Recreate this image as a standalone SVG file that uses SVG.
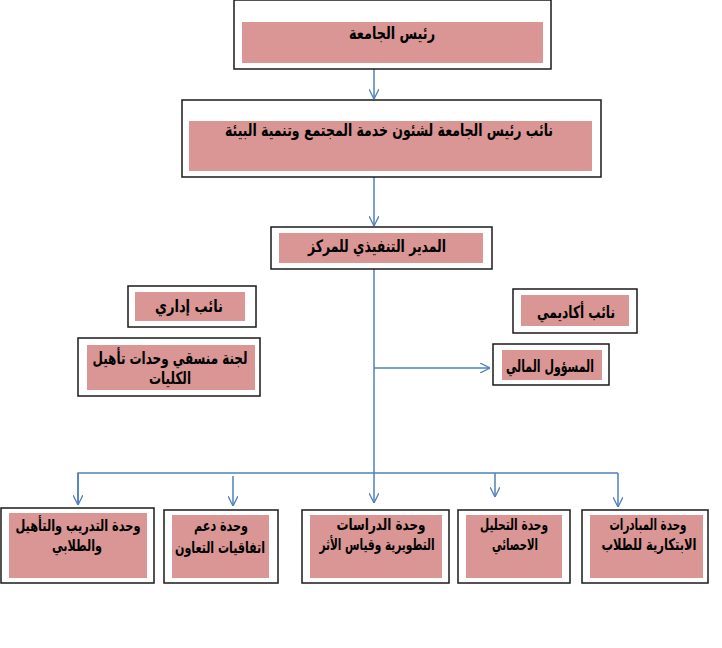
<svg xmlns="http://www.w3.org/2000/svg" width="722" height="648" viewBox="0 0 722 648">
<defs>
<style>
.outer{fill:#fff;stroke:#1a1a1a;stroke-width:1.5}
.inner{fill:#D99694;stroke:none}
.t{font-family:"DejaVu Sans Condensed","DejaVu Sans",sans-serif;font-weight:bold;font-size:17px;fill:#000;text-anchor:middle}
.s{font-size:16px}
.c{fill:none;stroke:#4F81BD;stroke-width:1.5}
</style>
<marker id="arr" viewBox="0 0 10 10" refX="10" refY="5" markerWidth="10" markerHeight="10" markerUnits="userSpaceOnUse" orient="auto">
<path d="M0,0 L10,5 L0,10" fill="none" stroke="#4F81BD" stroke-width="1.3"/>
</marker>
</defs>
<rect width="722" height="648" fill="#fff"/>

<g id="connectors">
<line class="c" x1="374" y1="69" x2="374" y2="99" marker-end="url(#arr)"/>
<line class="c" x1="374" y1="177" x2="374" y2="226" marker-end="url(#arr)"/>
<line class="c" x1="374" y1="269" x2="374" y2="503" marker-end="url(#arr)"/>
<line class="c" x1="374" y1="368" x2="490" y2="368" marker-end="url(#arr)"/>
<polyline class="c" points="78,505 78,473 618,473"/>
<line class="c" x1="78" y1="473" x2="78" y2="505" marker-end="url(#arr)"/>
<line class="c" x1="233" y1="476" x2="233" y2="506" marker-end="url(#arr)"/>
<line class="c" x1="495" y1="473" x2="495" y2="497" marker-end="url(#arr)"/>
<line class="c" x1="618" y1="473" x2="618" y2="507" marker-end="url(#arr)"/>
</g>

<g id="president">
<rect class="outer" x="234" y="0" width="317" height="69"/>
<rect class="inner" x="242" y="22" width="301" height="41"/>
<text class="t" x="392" y="39" textLength="86" lengthAdjust="spacingAndGlyphs">رئيس الجامعة</text>
</g>

<g id="vice-president">
<rect class="outer" x="182" y="100" width="419" height="77"/>
<rect class="inner" x="189" y="121" width="403" height="50"/>
<text class="t" x="389" y="136" textLength="328" lengthAdjust="spacingAndGlyphs">نائب رئيس الجامعة لشئون خدمة المجتمع وتنمية البيئة</text>
</g>

<g id="executive-director">
<rect class="outer" x="271" y="227" width="221" height="42"/>
<rect class="inner" x="279" y="233" width="204" height="30"/>
<text class="t" x="377" y="252" textLength="138" lengthAdjust="spacingAndGlyphs">المدير التنفيذي للمركز</text>
</g>

<g id="admin-deputy">
<rect class="outer" x="128" y="286" width="128" height="41"/>
<rect class="inner" x="135" y="292" width="110" height="29"/>
<text class="t" x="189" y="312" textLength="68" lengthAdjust="spacingAndGlyphs">نائب إداري</text>
</g>

<g id="committee">
<rect class="outer" x="78" y="338" width="182" height="58"/>
<rect class="inner" x="87" y="345" width="168" height="45"/>
<text class="t" x="170" y="364" textLength="155" lengthAdjust="spacingAndGlyphs">لجنة منسقي وحدات تأهيل</text>
<text class="t" x="170" y="384" textLength="42" lengthAdjust="spacingAndGlyphs">الكليات</text>
</g>

<g id="academic-deputy">
<rect class="outer" x="513" y="289" width="124" height="44"/>
<rect class="inner" x="521" y="295" width="108" height="31"/>
<text class="t" x="576" y="318" textLength="78" lengthAdjust="spacingAndGlyphs">نائب أكاديمي</text>
</g>

<g id="finance-officer">
<rect class="outer" x="493" y="344" width="116" height="41"/>
<rect class="inner" x="502" y="350" width="100" height="30"/>
<text class="t" x="550" y="372" textLength="88" lengthAdjust="spacingAndGlyphs">المسؤول المالي</text>
</g>

<g id="training-unit">
<rect class="outer" x="1" y="508" width="153" height="75"/>
<rect class="inner" x="9" y="513" width="138" height="65"/>
<text class="t s" x="78" y="531" textLength="125" lengthAdjust="spacingAndGlyphs">وحدة التدريب والتأهيل</text>
<text class="t s" x="77" y="551" textLength="50" lengthAdjust="spacingAndGlyphs">والطلابي</text>
</g>

<g id="cooperation-unit">
<rect class="outer" x="164" y="510" width="114" height="73"/>
<rect class="inner" x="172" y="515" width="97" height="63"/>
<text class="t s" x="221" y="531" textLength="54" lengthAdjust="spacingAndGlyphs">وحدة دعم</text>
<text class="t s" x="220" y="553" textLength="90" lengthAdjust="spacingAndGlyphs">اتفاقيات التعاون</text>
</g>

<g id="studies-unit">
<rect class="outer" x="302" y="510" width="147" height="73"/>
<rect class="inner" x="310" y="515" width="132" height="63"/>
<text class="t s" x="381" y="530" textLength="89" lengthAdjust="spacingAndGlyphs">وحدة الدراسات</text>
<text class="t s" x="377" y="550" textLength="115" lengthAdjust="spacingAndGlyphs">التطويرية وقياس الأثر</text>
</g>

<g id="analysis-unit">
<rect class="outer" x="458" y="510" width="112" height="73"/>
<rect class="inner" x="466" y="515" width="96" height="63"/>
<text class="t s" x="514" y="530" textLength="68" lengthAdjust="spacingAndGlyphs">وحدة التحليل</text>
<text class="t s" x="515" y="550" textLength="46" lengthAdjust="spacingAndGlyphs">الاحصائي</text>
</g>

<g id="initiatives-unit">
<rect class="outer" x="582" y="510" width="126" height="73"/>
<rect class="inner" x="590" y="515" width="113" height="63"/>
<text class="t s" x="648" y="530" textLength="77" lengthAdjust="spacingAndGlyphs">وحدة المبادرات</text>
<text class="t s" x="649" y="550" textLength="95" lengthAdjust="spacingAndGlyphs">الابتكارية للطلاب</text>
</g>
</svg>
